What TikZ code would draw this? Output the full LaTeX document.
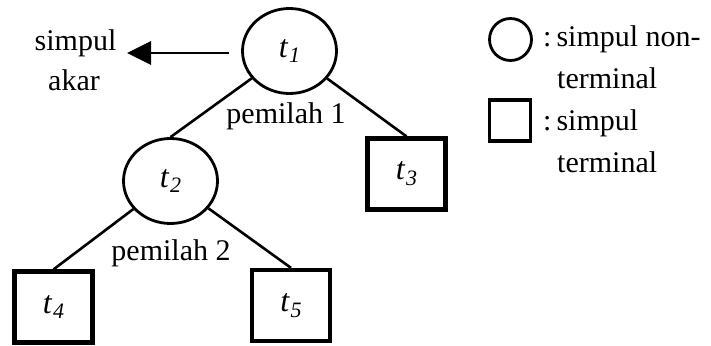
\documentclass[tikz,border=0pt]{standalone}
\usepackage{fontspec}
\setmainfont{Liberation Serif}
\usetikzlibrary{arrows.meta,shapes.geometric}

% italic t with an italic, slightly lowered subscript
\newcommand{\tnode}[1]{\textit{t}\kern0.5pt\raisebox{-0.4ex}{\fontsize{22}{22}\selectfont\itshape #1}}

\begin{document}
\begin{tikzpicture}[x=1pt,y=-1pt,
  txt/.style={font=\fontsize{30}{34}\selectfont, inner sep=0pt},
  nonterm/.style={draw, ellipse, line width=2.8pt, minimum width=94pt, minimum height=85pt,
                  inner sep=0pt, font=\fontsize{32}{34}\selectfont},
  term/.style={draw, rectangle, line width=4.2pt, minimum width=78pt, minimum height=71pt,
               inner sep=0pt, font=\fontsize{32}{34}\selectfont},
  edge/.style={line width=2.6pt},
  rootarrow/.style={line width=2.8pt, -{Triangle[length=24pt,width=23pt]}}
]
\useasboundingbox (0,0) rectangle (711,345);

% tree nodes
\node[nonterm] (t1) at (289.5,51) {\tnode{1}};
\node[nonterm] (t2) at (170.5,181) {\tnode{2}};
\node[term] (t3) at (406.5,174) {\tnode{3}};
\node[term] (t4) at (53.5,307) {\tnode{4}};
\node[term] (t5) at (291,305.5) {\tnode{5}};

% branches
\draw[edge] (t1) -- (t2.north);
\draw[edge] (t1) -- (t3.north);
\draw[edge] (t2) -- (t4.north);
\draw[edge] (t2) -- (t5.north);

% split labels
\node[txt, anchor=base] (p1) at (286,123) {pemilah 1};
\node[txt, anchor=base] (p2) at (171,260) {pemilah 2};

% root label and arrow
\node[txt, anchor=base] (root1) at (75.5,50) {simpul};
\node[txt, anchor=base] (root2) at (74,90) {akar};
\coordinate (tip) at (127,53);
\draw[rootarrow] ([xshift=-12pt]t1.west |- tip) -- (tip);

% legend
\node[draw, circle, line width=2.8pt, minimum size=42pt, inner sep=0pt] (lc) at (510.5,39.5) {};
\node[draw, rectangle, line width=3.6pt, minimum width=41pt, minimum height=41.5pt, inner sep=0pt] (ls) at (510,120.5) {};
\node[txt, anchor=base west] (l1) at (543,47) {:\kern5pt simpul non-};
\node[txt, anchor=base west] (l2) at (557,88) {terminal};
\node[txt, anchor=base west] (l3) at (543,130) {:\kern5pt simpul};
\node[txt, anchor=base west] (l4) at (557,172) {terminal};
\end{tikzpicture}
\end{document}
